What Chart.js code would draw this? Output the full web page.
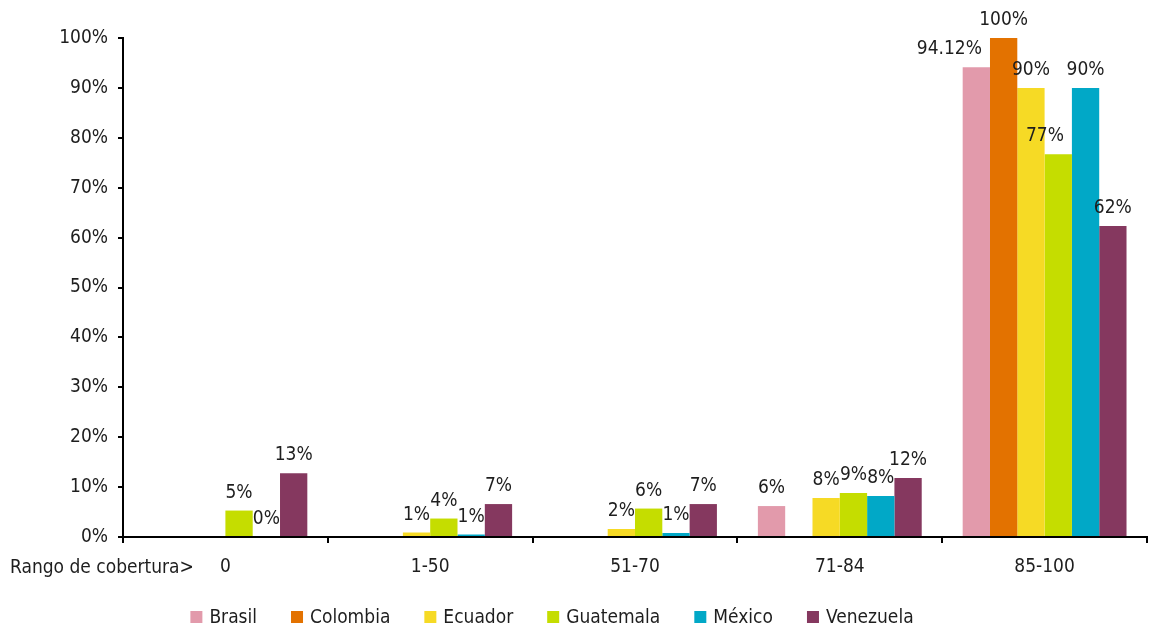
<!DOCTYPE html>
<html>
<head>
<meta charset="utf-8">
<script src="https://cdn.jsdelivr.net/npm/chart.js@4/dist/chart.umd.min.js"></script>
<style>
  html, body { margin: 0; padding: 0; background: #fff; }
  #wrap { width: 1150px; height: 630px; position: relative; }
</style>
</head>
<body>
<div id="wrap"><canvas id="chart" width="1150" height="630"></canvas></div>
<script>
const categories = ['0', '1-50', '51-70', '71-84', '85-100'];
const countries = ['Brasil', 'Colombia', 'Ecuador', 'Guatemala', 'México', 'Venezuela'];
const colors = ['#e29aab', '#e37200', '#f6da25', '#c5dd00', '#01a8c7', '#85385f'];

const brasil    = [0, 0, 0, 6.2, 94.12];
const colombia  = [0, 0, 0, 0, 100];
const ecuador   = [0, 0.9, 1.6, 7.8, 90];
const guatemala = [5.3, 3.7, 5.7, 8.8, 76.7];
const mexico    = [0, 0.5, 0.8, 8.2, 90];
const venezuela = [12.8, 6.6, 6.6, 11.8, 62.3];

const brasilLabels    = [null, null, null, '6%', '94.12%'];
const colombiaLabels  = [null, null, null, null, '100%'];
const ecuadorLabels   = [null, '1%', '2%', '8%', '90%'];
const guatemalaLabels = ['5%', '4%', '6%', '9%', '77%'];
const mexicoLabels    = ['0%', '1%', '1%', '8%', '90%'];
const venezuelaLabels = ['13%', '7%', '7%', '12%', '62%'];

const yTicks = [0, 10, 20, 30, 40, 50, 60, 70, 80, 90, 100];
const axisTitle = 'Rango de cobertura>';

const FONT = '"Liberation Sans Narrow", "DejaVu Sans Condensed", sans-serif';
const FSIZE = 19;
const TEXT = '#1e1e1e';

const series = [brasil, colombia, ecuador, guatemala, mexico, venezuela];
const labels = [brasilLabels, colombiaLabels, ecuadorLabels, guatemalaLabels, mexicoLabels, venezuelaLabels];

// value labels above the bars, nudged left when they would run into a taller neighbour
const valueLabels = {
  id: 'valueLabels',
  afterDatasetsDraw(chart) {
    const ctx = chart.ctx;
    ctx.save();
    ctx.font = FSIZE + 'px ' + FONT;
    ctx.fillStyle = TEXT;
    ctx.textAlign = 'center';
    ctx.textBaseline = 'alphabetic';
    chart.data.datasets.forEach((ds, i) => {
      const meta = chart.getDatasetMeta(i);
      meta.data.forEach((bar, j) => {
        const txt = labels[i][j];
        if (!txt) return;
        let x = bar.x;
        const y = bar.y - 13;
        const w = ctx.measureText(txt).width;
        if (i + 1 < chart.data.datasets.length) {
          const nb = chart.getDatasetMeta(i + 1).data[j];
          const left = nb.x - nb.width / 2;
          if (nb.y < y && x + w / 2 > left) x = left - 8 - w / 2;
        }
        ctx.fillText(txt, x, y);
      });
    });
    ctx.restore();
  }
};

// axis caption on the category row + legend along the bottom
const extras = {
  id: 'extras',
  afterDraw(chart) {
    const ctx = chart.ctx;
    const xs = chart.scales.x;
    ctx.save();
    ctx.font = FSIZE + 'px ' + FONT;
    ctx.fillStyle = TEXT;
    ctx.textAlign = 'left';
    ctx.textBaseline = 'middle';
    ctx.fillText(axisTitle, 10, xs.top + 31);

    const box = 12, gapText = 7, gapItem = 34;
    const widths = countries.map(c => box + gapText + ctx.measureText(c).width);
    const total = widths.reduce((a, b) => a + b, 0) + gapItem * (countries.length - 1);
    let x = 552 - total / 2;
    const y = 617;
    countries.forEach((c, i) => {
      ctx.fillStyle = colors[i];
      ctx.fillRect(x, y - 6, box, box);
      ctx.fillStyle = TEXT;
      ctx.fillText(c, x + box + gapText, y + 1);
      x += widths[i] + gapItem;
    });
    ctx.restore();
  }
};

const ctx = document.getElementById('chart').getContext('2d');
const chart = new Chart(ctx, {
  type: 'bar',
  data: {
    labels: categories,
    datasets: countries.map((name, i) => ({
      label: name,
      data: series[i],
      backgroundColor: colors[i],
      borderWidth: 0,
      categoryPercentage: 0.8,
      barPercentage: 1.0
    }))
  },
  options: {
    responsive: false,
    animation: false,
    layout: { padding: { top: 38, right: 3, left: 0, bottom: 0 } },
    plugins: {
      tooltip: { enabled: false },
      legend: { display: false }
    },
    scales: {
      x: {
        afterFit(scale) { scale.height = 93; },
        grid: { drawOnChartArea: false, drawTicks: true, tickLength: 6, color: '#000', lineWidth: 2 },
        border: { display: true, color: '#000', width: 2 },
        ticks: { font: { family: FONT, size: FSIZE }, color: TEXT, padding: 13, maxRotation: 0 }
      },
      y: {
        min: 0,
        max: 100,
        afterFit(scale) { scale.width = 123; },
        afterBuildTicks(scale) { scale.ticks = yTicks.map(v => ({ value: v })); },
        grid: { drawOnChartArea: false, drawTicks: true, tickLength: 5, color: '#000', lineWidth: 2 },
        border: { display: true, color: '#000', width: 2 },
        ticks: {
          font: { family: FONT, size: FSIZE },
          color: TEXT,
          padding: 10,
          callback: v => v + '%'
        }
      }
    }
  },
  plugins: [valueLabels, extras]
});
</script>
</body>
</html>
